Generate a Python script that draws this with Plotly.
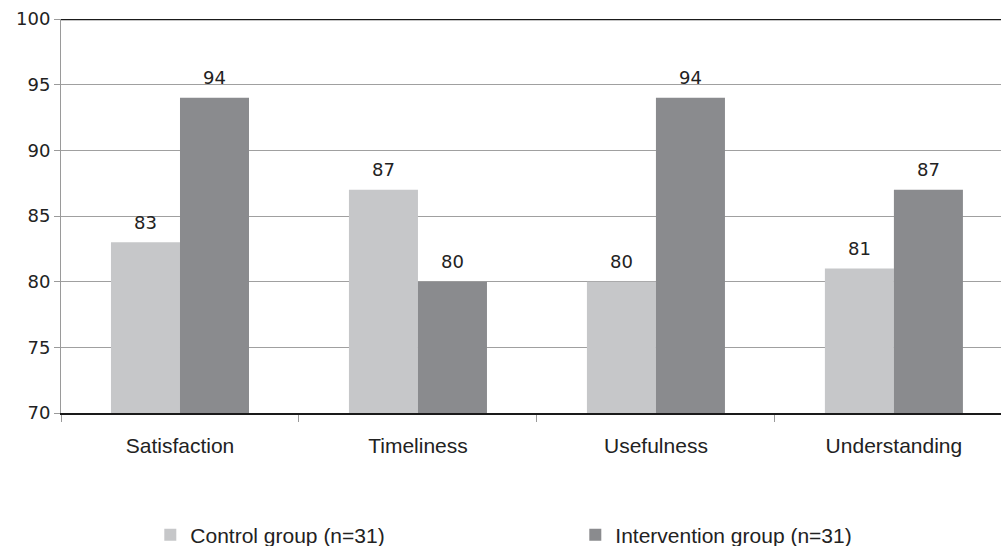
import plotly.graph_objects as go

# Survey outcome scores by group
categories = ["Satisfaction", "Timeliness", "Usefulness", "Understanding"]
control = [83, 87, 80, 81]
intervention = [94, 80, 94, 87]
series_names = ["Control group (n=31)", "Intervention group (n=31)"]
y_ticks = [70, 75, 80, 85, 90, 95, 100]

x_pos = list(range(len(categories)))
colors = ["#c6c7c9", "#8a8b8e"]
bar_gap = 0.42
bar_offset = (1 - bar_gap) / 4  # centre offset of each bar within its group

fig = go.Figure()
for name, values, color in zip(series_names, [control, intervention], colors):
    fig.add_trace(go.Bar(
        x=x_pos, y=values, name=name,
        marker=dict(color=color, line=dict(width=0)),
    ))

# value labels above bars
annotations = []
for values, sign in [(control, -1), (intervention, 1)]:
    for xi, v in zip(x_pos, values):
        annotations.append(dict(
            x=xi + sign * bar_offset, y=v, xref="x", yref="y",
            text=str(v), showarrow=False, yanchor="middle", yshift=20,
            font=dict(family="DejaVu Sans", size=18, color="#222222"),
        ))

fig.update_layout(
    width=1001, height=546,
    margin=dict(l=61, r=0, t=19, b=133, autoexpand=False),
    paper_bgcolor="white", plot_bgcolor="white",
    barmode="group", bargap=bar_gap, bargroupgap=0,
    showlegend=True,
    legend=dict(
        orientation="h", x=0.095, xanchor="left", y=-0.31, yanchor="middle",
        entrywidth=380, entrywidthmode="pixels",
        font=dict(family="Liberation Sans", size=21, color="#222222"),
        itemclick=False, itemdoubleclick=False,
    ),
    xaxis=dict(
        range=[-0.5, 3.45],
        tickmode="array", tickvals=x_pos, ticktext=categories,
        ticks="", showgrid=False, zeroline=False,
        showline=True, linecolor="#1a1a1a", linewidth=2,
        tickfont=dict(family="Liberation Sans", size=21, color="#222222"),
        ticklabelstandoff=13,
        minor=dict(tickmode="linear", tick0=-0.5, dtick=1, ticks="outside",
                   ticklen=7, tickcolor="#9a9a9a", tickwidth=1, showgrid=False),
    ),
    yaxis=dict(
        range=[70, 100], tickmode="array", tickvals=y_ticks,
        ticks="outside", ticklen=6, tickcolor="#9a9a9a",
        showgrid=True, gridcolor="#a0a0a0", gridwidth=1,
        zeroline=False, showline=True, linecolor="#9a9a9a", linewidth=1,
        tickfont=dict(family="DejaVu Sans", size=18, color="#222222"),
    ),
    annotations=annotations,
    shapes=[dict(type="line", xref="paper", yref="y", x0=0, x1=1, y0=100, y1=100,
                 line=dict(color="#1a1a1a", width=2.5))],
)

fig.write_html("out.html")
